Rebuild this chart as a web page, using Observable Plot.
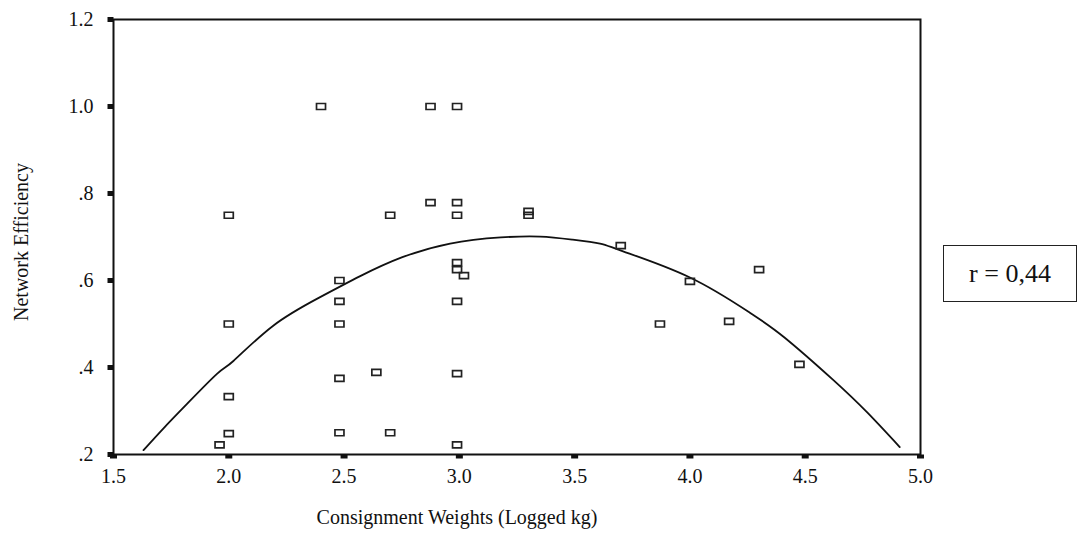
<!DOCTYPE html>
<html>
<head>
<meta charset="utf-8">
<script src="https://cdn.jsdelivr.net/npm/d3@7"></script>
<script src="https://cdn.jsdelivr.net/npm/@observablehq/plot@0.6"></script>
<style>
  html, body { margin: 0; padding: 0; background: #fff; }
  #wrap { position: relative; width: 1078px; height: 538px; }
  #rbox {
    position: absolute; left: 943px; top: 245px; width: 132px; height: 55px;
    border: 1.5px solid #222; font-family: "Liberation Serif", serif; font-size: 26px;
    display: flex; align-items: center; justify-content: center; color: #111; background: #fff;
  }
</style>
</head>
<body>
<div id="wrap"></div>
<script>
// Observed scatter points (Consignment weight, logged kg vs network efficiency)
const weights = [1.96, 2.0, 2.0, 2.0, 2.0, 2.4, 2.48, 2.48, 2.48, 2.48, 2.48, 2.64, 2.7, 2.7,
  2.875, 2.875, 2.99, 2.99, 2.99, 2.99, 2.99, 3.02, 2.99, 2.99, 2.99, 3.3, 3.3, 3.7, 3.87, 4.0, 4.17, 4.3, 4.475];
const efficiency = [0.222, 0.248, 0.333, 0.5, 0.75, 1.0, 0.6, 0.552, 0.5, 0.375, 0.25, 0.389, 0.75, 0.25,
  1.0, 0.779, 1.0, 0.779, 0.75, 0.641, 0.625, 0.611, 0.552, 0.386, 0.222, 0.759, 0.75, 0.68, 0.5, 0.598, 0.506, 0.625, 0.407];
// Fitted curve
const curveX = [1.63, 1.72, 1.82, 1.95, 2.02, 2.19, 2.39, 2.57, 2.75, 2.96, 3.18, 3.35, 3.49, 3.61, 3.71, 4.0, 4.26, 4.41, 4.62, 4.77, 4.91];
const curveY = [0.21, 0.262, 0.317, 0.386, 0.415, 0.495, 0.56, 0.61, 0.653, 0.685, 0.699, 0.701, 0.694, 0.685, 0.667, 0.607, 0.526, 0.469, 0.372, 0.296, 0.217];
const xTicks = [1.5, 2.0, 2.5, 3.0, 3.5, 4.0, 4.5, 5.0];
const yTicks = [0.2, 0.4, 0.6, 0.8, 1.0, 1.2];
const xLabel = "Consignment Weights (Logged kg)";
const yLabel = "Network Efficiency";
const rText = "r = 0,44";

const points = weights.map((w, i) => ({x: w, y: efficiency[i]}));
const curve = curveX.map((c, i) => ({x: c, y: curveY[i]}));

const rectSymbol = { draw(ctx) { ctx.rect(-4.5, -3, 9, 6); } };
const xTickSymbol = { draw(ctx) { ctx.rect(-3.5, 0, 7, 4); } };
const yTickSymbol = { draw(ctx) { ctx.rect(-6, -2.5, 6, 5); } };

const chart = Plot.plot({
  width: 1078,
  height: 538,
  marginLeft: 113,
  marginRight: 158,
  marginTop: 19,
  marginBottom: 84,
  style: { fontFamily: "Liberation Serif, serif", fontSize: "20px", background: "#fff", color: "#111" },
  x: { domain: [1.5, 5.0] },
  y: { domain: [0.2, 1.2] },
  marks: [
    Plot.axisX({ ticks: xTicks, tickFormat: d => d.toFixed(1), tickSize: 0, tickPadding: 14, label: null, fontSize: 20 }),
    Plot.axisY({ ticks: yTicks, tickFormat: d => d >= 1 ? d.toFixed(1) : d.toFixed(1).replace(/^0/, ""), tickSize: 0, tickPadding: 20, label: null, fontSize: 20 }),
    Plot.dot(xTicks, { x: d => d, frameAnchor: "bottom", symbol: xTickSymbol, fill: "#111", stroke: "none", r: 4 }),
    Plot.dot(yTicks, { y: d => d, frameAnchor: "left", symbol: yTickSymbol, fill: "#111", stroke: "none", r: 4 }),
    Plot.line(curve, { x: "x", y: "y", stroke: "#111", strokeWidth: 1.8, curve: "natural" }),
    Plot.dot(points, { x: "x", y: "y", symbol: rectSymbol, stroke: "#222", strokeWidth: 1.7, fill: "none", r: 4 }),
    Plot.frame({ stroke: "#111", strokeWidth: 2 }),
    Plot.text([xLabel], { frameAnchor: "bottom", textAnchor: "middle", dx: -60, dy: 69, fontSize: 20, fill: "#111" }),
    Plot.text([yLabel], { frameAnchor: "left", textAnchor: "middle", dx: -92, dy: 5, rotate: -90, fontSize: 20, fill: "#111" })
  ]
});

const wrap = document.getElementById("wrap");
wrap.appendChild(chart);
const box = document.createElement("div");
box.id = "rbox";
box.textContent = rText;
wrap.appendChild(box);
</script>
</body>
</html>
